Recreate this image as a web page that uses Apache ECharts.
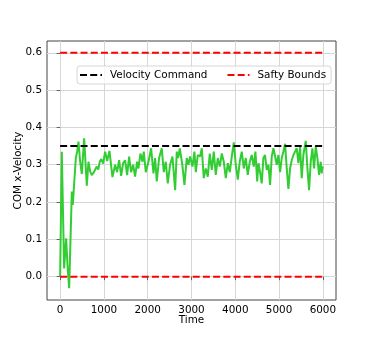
<!DOCTYPE html>
<html>
<head>
<meta charset="utf-8">
<script src="https://cdn.jsdelivr.net/npm/echarts@6/dist/echarts.min.js"></script>
<style>
html,body{margin:0;padding:0;background:#fff;}
#chart{width:374px;height:343px;}
</style>
</head>
<body>
<div id="chart"></div>
<script>
// Data
var times = [0,38,91,137,168,206,267,289,358,388,419,457,495,548,609,647,685,723,761,799,836,870,905,940,982,1027,1073,1126,1195,1256,1301,1347,1393,1438,1484,1530,1575,1621,1667,1712,1758,1788,1834,1880,1910,1956,2017,2078,2131,2169,2207,2260,2321,2367,2412,2458,2511,2565,2626,2664,2695,2733,2790,2839,2892,2930,2968,3022,3067,3098,3143,3197,3235,3280,3326,3372,3417,3463,3509,3554,3600,3646,3692,3737,3783,3829,3874,3920,3966,4011,4057,4102,4148,4194,4239,4285,4331,4376,4422,4460,4500,4528,4566,4604,4642,4680,4718,4757,4795,4833,4871,4909,4947,4985,5023,5061,5099,5137,5175,5213,5251,5289,5327,5365,5403,5441,5479,5517,5555,5609,5647,5685,5723,5761,5799,5837,5875,5913,5951,5974,5990,6000];
var velocity = [0.0,0.335,0.022,0.103,0.031,-0.031,0.228,0.192,0.318,0.335,0.362,0.308,0.275,0.371,0.244,0.308,0.282,0.272,0.278,0.282,0.295,0.287,0.308,0.315,0.303,0.335,0.310,0.337,0.267,0.300,0.280,0.312,0.270,0.304,0.312,0.272,0.322,0.280,0.300,0.268,0.308,0.290,0.330,0.308,0.335,0.280,0.308,0.344,0.277,0.318,0.255,0.318,0.344,0.280,0.308,0.250,0.300,0.322,0.232,0.335,0.318,0.344,0.300,0.246,0.318,0.300,0.322,0.295,0.335,0.280,0.326,0.322,0.344,0.264,0.290,0.268,0.330,0.286,0.335,0.273,0.318,0.295,0.330,0.308,0.264,0.304,0.280,0.322,0.360,0.300,0.260,0.308,0.335,0.290,0.318,0.273,0.308,0.326,0.295,0.335,0.255,0.304,0.280,0.250,0.318,0.326,0.286,0.300,0.246,0.322,0.344,0.340,0.300,0.326,0.280,0.318,0.335,0.356,0.290,0.235,0.290,0.312,0.326,0.335,0.344,0.304,0.349,0.264,0.326,0.364,0.290,0.232,0.308,0.344,0.290,0.349,0.318,0.273,0.308,0.277,0.295,0.290];
var commandValue = 0.35;
var boundUpper = 0.6;
var boundLower = 0.0;
var lineStart = 0, lineEnd = 6000;
var xTicks = [0,1000,2000,3000,4000,5000,6000];
var yTicks = [0.0,0.1,0.2,0.3,0.4,0.5,0.6];

var font = 'DejaVu Sans';
var fs = 10.4;
var velData = times.map(function(t,i){return [t, velocity[i]];});
var dashIcon = 'path://M0,0h7v2h-7zM10.2,0h7v2h-7zM20.4,0h1.6v2h-1.6z';

var chart = echarts.init(document.getElementById('chart'), null, {renderer:'canvas'});
chart.setOption({
  animation: false,
  backgroundColor: '#fff',
  grid: {left: 47, right: 38, top: 41, bottom: 43, show: true, borderColor: '#444', borderWidth: 1, backgroundColor: 'transparent'},
  legend: {
    left: 77, top: 66,
    padding: [4, 5, 4, 3],
    itemWidth: 22, itemHeight: 2, itemGap: 20,
    backgroundColor: 'rgba(255,255,255,0.8)',
    borderColor: '#d6d6d6', borderWidth: 1, borderRadius: 3,
    textStyle: {fontFamily: font, fontSize: fs, color: '#000', padding: [0,0,0,3]},
    data: [
      {name: 'Velocity Command', icon: dashIcon},
      {name: 'Safty Bounds', icon: dashIcon}
    ]
  },
  xAxis: {
    type: 'value', min: -300, max: 6300,
    name: 'Time', nameLocation: 'middle', nameGap: 15, nameMoveOverlap: false,
    nameTextStyle: {fontFamily: font, fontSize: fs, color: '#000', verticalAlign: 'top'},
    axisLine: {show: false},
    axisTick: {show: true, inside: false, length: 3.5, customValues: xTicks, lineStyle: {color: '#444', width: 0.8}},
    axisLabel: {customValues: xTicks, fontFamily: font, fontSize: fs, color: '#000', margin: 5,
      formatter: function(v){return String(Math.round(v));}},
    splitLine: {show: true, lineStyle: {color: '#d6d6d6', width: 1}}
  },
  yAxis: {
    type: 'value', min: -0.0626, max: 0.6316,
    name: 'COM x-Velocity', nameLocation: 'middle', nameGap: 24, nameMoveOverlap: false,
    nameTextStyle: {fontFamily: font, fontSize: fs, color: '#000', verticalAlign: 'bottom'},
    axisLine: {show: false},
    axisTick: {show: true, inside: false, length: 3.5, customValues: yTicks, lineStyle: {color: '#444', width: 0.8}},
    axisLabel: {customValues: yTicks, fontFamily: font, fontSize: fs, color: '#000', margin: 5,
      formatter: function(v){return v.toFixed(1);}},
    splitLine: {show: true, lineStyle: {color: '#d6d6d6', width: 1}}
  },
  series: [
    {name: 'velocity', type: 'line', data: velData, symbol: 'none', z: 2,
     lineStyle: {color: '#32cd32', width: 2}, itemStyle: {color: '#32cd32'}},
    {name: 'Velocity Command', type: 'line', data: [[lineStart, commandValue],[lineEnd, commandValue]], symbol: 'none', z: 3,
     lineStyle: {color: '#000', width: 2, type: [7, 3.2]}, itemStyle: {color: '#000'}},
    {name: 'Safty Bounds', type: 'line', data: [[lineStart, boundUpper],[lineEnd, boundUpper]], symbol: 'none', z: 3,
     lineStyle: {color: '#ff0000', width: 2, type: [7, 3.2]}, itemStyle: {color: '#ff0000'}},
    {name: 'Safty Bounds', type: 'line', data: [[lineStart, boundLower],[lineEnd, boundLower]], symbol: 'none', z: 3,
     lineStyle: {color: '#ff0000', width: 2, type: [7, 3.2]}, itemStyle: {color: '#ff0000'}}
  ]
});
</script>
</body>
</html>
